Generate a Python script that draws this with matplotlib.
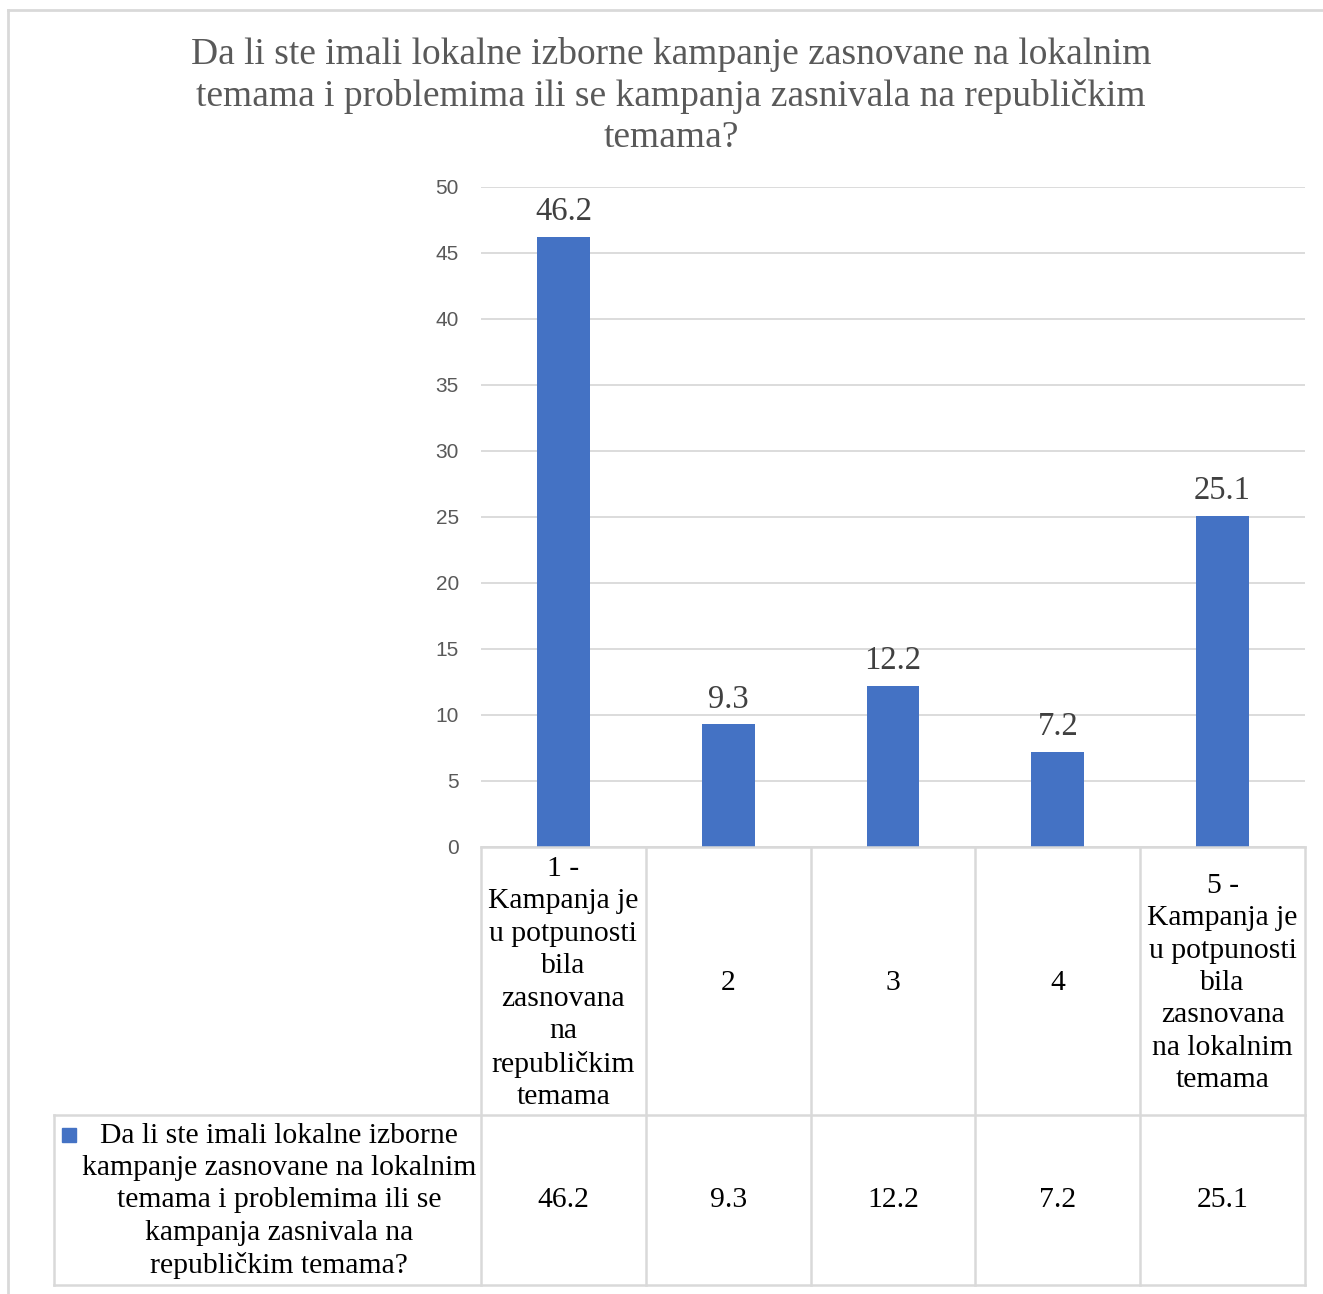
import matplotlib.pyplot as plt
from matplotlib.lines import Line2D
from matplotlib.patches import Rectangle

# data
categories = [
    "1 -\nKampanja je\nu potpunosti\nbila\nzasnovana\nna\nrepubličkim\ntemama",
    "2",
    "3",
    "4",
    "5 -\nKampanja je\nu potpunosti\nbila\nzasnovana\nna lokalnim\ntemama",
]
values = [46.2, 9.3, 12.2, 7.2, 25.1]
yticks = [0, 5, 10, 15, 20, 25, 30, 35, 40, 45, 50]
title = ("Da li ste imali lokalne izborne kampanje zasnovane na lokalnim\n"
         "temama i problemima ili se kampanja zasnivala na republičkim\n"
         "temama?")
series_name = ("Da li ste imali lokalne izborne\nkampanje zasnovane na lokalnim\n"
               "temama i problemima ili se\nkampanja zasnivala na\nrepubličkim temama?")

BLUE = '#4472C4'
GRID = '#D9D9D9'
GRAY = '#595959'
SERIF = ['Liberation Serif', 'DejaVu Serif']
TFS = 21.3  # table font size

W, H = 1323, 1294
fig = plt.figure(figsize=(W / 100, H / 100), dpi=100)


def fx(px):
    return px / W


def fy(py):
    return 1 - py / H


# plot area in pixel coords of the reference
x0, x1, y0, y1 = 481, 1305, 847, 187
ax = fig.add_axes([fx(x0), fy(y0), fx(x1) - fx(x0), fy(y1) - fy(y0)])
n = len(values)
xs = list(range(n))
ax.bar(xs, values, width=0.32, color=BLUE, zorder=3)
ax.set_xlim(-0.5, n - 0.5)
ax.set_ylim(0, 50)
ax.set_yticks(yticks)
ax.set_xticks([])
ax.yaxis.grid(True, color=GRID, lw=1.3, zorder=0)
for s in ax.spines.values():
    s.set_visible(False)
ax.tick_params(axis='y', length=0, pad=16, labelsize=15, labelcolor=GRAY)
for lab in ax.get_yticklabels():
    lab.set_family(['Liberation Sans', 'DejaVu Sans'])
for x, v in zip(xs, values):
    ax.annotate(f'{v}', (x, v), xytext=(0, 7), textcoords='offset points',
                ha='center', va='bottom', fontsize=23.5, color='#404040',
                family=SERIF)

fig.text(fx(671), fy(37), title, ha='center', va='top', fontsize=27,
         color=GRAY, family=SERIF, linespacing=1.25)

# data table
col_w = (x1 - x0) / n
edges = [x0 + i * col_w for i in range(n + 1)]
row_top, row_mid, row_bot = 847, 1115, 1285
leg_left = 54


def hline(y, xa, xb):
    fig.add_artist(Line2D([fx(xa), fx(xb)], [fy(y), fy(y)], color=GRID, lw=1.8))


def vline(x, ya, yb):
    fig.add_artist(Line2D([fx(x), fx(x)], [fy(ya), fy(yb)], color=GRID, lw=1.8))


hline(row_top, x0, x1)
hline(row_mid, leg_left, x1)
hline(row_bot, leg_left, x1)
vline(leg_left, row_mid, row_bot)
for e in edges:
    vline(e, row_top, row_bot)

for i, (cat, v) in enumerate(zip(categories, values)):
    cx = (edges[i] + edges[i + 1]) / 2
    fig.text(fx(cx), fy((row_top + row_mid) / 2 + 2), cat, ha='center', va='center',
             fontsize=TFS, family=SERIF, color='black', linespacing=1.32)
    fig.text(fx(cx), fy((row_mid + row_bot) / 2), f'{v}', ha='center', va='center',
             fontsize=TFS, family=SERIF, color='black')

fig.add_artist(Rectangle((fx(62), fy(1142)), fx(14), 14 / H, color=BLUE))
fig.text(fx(279), fy((row_mid + row_bot) / 2 + 1), series_name, ha='center', va='center',
         fontsize=TFS, family=SERIF, color='black', linespacing=1.32)

# chart frame
fig.add_artist(Line2D([fx(8), 1], [fy(10), fy(10)], color=GRID, lw=2))
fig.add_artist(Line2D([fx(8), fx(8)], [fy(10), 0], color=GRID, lw=2))

fig.savefig('out.png', dpi=100)
